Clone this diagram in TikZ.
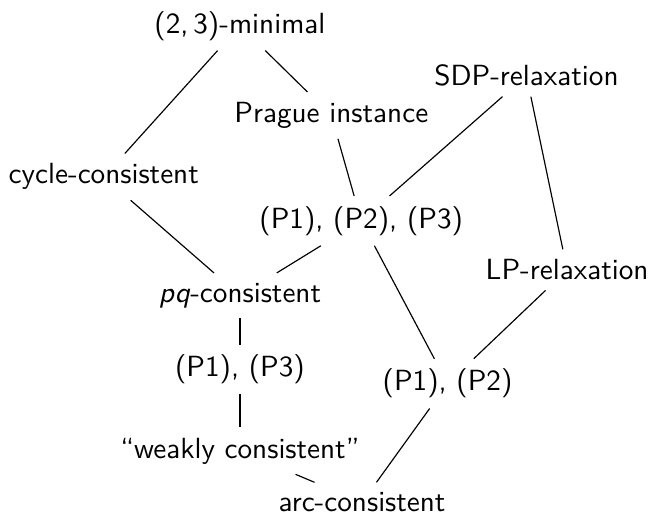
\documentclass[tikz,border=0pt]{standalone}
\begin{document}
\begin{tikzpicture}[auto,
 thin,main node/.style={font=\sffamily}]
  \useasboundingbox (0,0) rectangle (7.9,6.27);

  \node[main node] (1) at (2.89,5.96) {(2,\,3)-minimal};
  \node[main node] (2) at (6.34,5.36) {SDP-relaxation};
  \node[main node] (3) at (3.99,4.88) {Prague instance};
  \node[main node] (4) at (1.25,4.14) {cycle-consistent};
  \node[main node] (5) at (4.35,3.61) {(P1), (P2), (P3)};
  \node[main node] (6) at (6.83,3.02) {LP-relaxation};
  \node[main node] (7) at (2.89,2.71) {\textit{pq}-consistent};
  \node[main node] (8) at (2.89,1.82) {(P1), (P3)};
  \node[main node] (9) at (5.39,1.65) {(P1), (P2)};
  \node[main node] (10) at (2.89,0.84) {``weakly consistent''};
  \node[main node] (11) at (4.36,0.22) {arc-consistent};

  \path
     (1) edge (4)
         edge (3)
     (2) edge (5)
         edge (6)
     (3) edge (5)
     (4) edge (7)
     (5) edge (7)
         edge (9)
     (6) edge (9)
     (7) edge (8)
     (8) edge (10)
     (10) edge (11)
     (9) edge (11);
\end{tikzpicture}
\end{document}
